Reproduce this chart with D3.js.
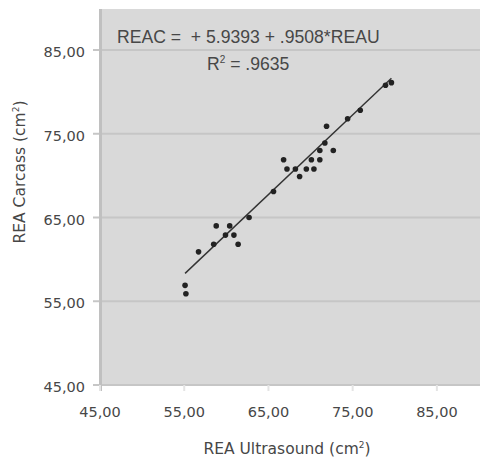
<!DOCTYPE html>
<html>
<head>
<meta charset="utf-8">
<script src="https://cdn.jsdelivr.net/npm/d3@7"></script>
<style>
  body { margin: 0; background: #fff; }
  svg text { fill: #474747; }
</style>
</head>
<body>
<div id="chart"></div>
<script>
// REA ultrasound vs carcass measurements (cm²)
const reau = [55.1, 55.2, 56.7, 58.5, 58.8, 59.9, 60.4, 60.9, 61.4, 62.7,
    65.6, 66.8, 67.2, 68.2, 68.7, 69.5, 70.1, 70.4, 71.1, 71.1,
    71.7, 71.9, 72.7, 74.4, 75.9, 78.9, 79.6];
const reac = [56.9, 55.9, 60.9, 61.8, 64.0, 62.9, 64.0, 62.9, 61.8, 65.0,
    68.1, 71.9, 70.8, 70.8, 69.9, 70.8, 71.9, 70.8, 71.9, 73.0,
    73.9, 75.9, 73.0, 76.8, 77.8, 80.8, 81.1];
const xTicks = [45, 55, 65, 75, 85];
const yTicks = [45, 55, 65, 75, 85];
const intercept = 5.9393;
const slope = 0.9508;
const eqText = "REAC =  + 5.9393 + .9508*REAU";
const r2Text = ".9635";

const width = 480, height = 459;
const margin = {top: 9, right: 0, bottom: 74, left: 100};

const svg = d3.select("#chart").append("svg")
    .attr("width", width)
    .attr("height", height);

const x = d3.scaleLinear().domain([45, 90]).range([margin.left, 479]);
const y = d3.scaleLinear().domain([45, 85]).range([385, 50]);

// plot background
svg.append("rect")
    .attr("x", margin.left)
    .attr("y", margin.top)
    .attr("width", width - margin.left - margin.right)
    .attr("height", y(45) - margin.top)
    .attr("fill", "#d9d9d9");

// horizontal gridlines
svg.selectAll(".grid")
    .data(yTicks)
    .enter()
    .append("line")
    .attr("class", "grid")
    .attr("x1", margin.left - 7)
    .attr("x2", width)
    .attr("y1", d => y(d))
    .attr("y2", d => y(d))
    .style("stroke", "#c6c6c6")
    .style("stroke-width", 2);

// left edge of plot
svg.append("line")
    .attr("x1", margin.left + 0.5)
    .attr("x2", margin.left + 0.5)
    .attr("y1", margin.top)
    .attr("y2", y(45) + 6)
    .style("stroke", "#c0c0c0")
    .style("stroke-width", 3);

// x tick marks
svg.selectAll(".xtick")
    .data(xTicks)
    .enter()
    .append("line")
    .attr("x1", d => x(d))
    .attr("x2", d => x(d))
    .attr("y1", y(45))
    .attr("y2", y(45) + 6)
    .style("stroke", "#e4e4e4")
    .style("stroke-width", 2);

const fmt = d => d3.format(".2f")(d).replace(".", ",");

// y tick labels
svg.selectAll(".ylabel")
    .data(yTicks)
    .enter()
    .append("text")
    .attr("x", 85)
    .attr("y", d => y(d) + 2)
    .attr("dy", "0.35em")
    .style("text-anchor", "end")
    .style("font-family", "DejaVu Sans")
    .style("font-size", "14.5px")
    .text(fmt);

// x tick labels
svg.selectAll(".xlabel")
    .data(xTicks)
    .enter()
    .append("text")
    .attr("x", d => x(d))
    .attr("y", 412)
    .attr("dy", "0.35em")
    .style("text-anchor", "middle")
    .style("font-family", "DejaVu Sans")
    .style("font-size", "14.5px")
    .text(fmt);

// axis titles
svg.append("text")
    .attr("x", 287)
    .attr("y", 449)
    .attr("dy", "0.35em")
    .style("text-anchor", "middle")
    .style("font-family", "DejaVu Sans")
    .style("font-size", "15.5px")
    .html("REA Ultrasound (cm<tspan dy='-6' font-size='9'>2</tspan><tspan dy='6'>)</tspan>");

svg.append("text")
    .attr("transform", "translate(20,172) rotate(-90)")
    .attr("dy", "0.35em")
    .style("text-anchor", "middle")
    .style("font-family", "DejaVu Sans")
    .style("font-size", "15.5px")
    .html("REA Carcass (cm<tspan dy='-6' font-size='9'>2</tspan><tspan dy='6'>)</tspan>");

// regression line
const xExt = d3.extent(reau);
svg.append("line")
    .attr("x1", x(xExt[0]))
    .attr("x2", x(xExt[1]))
    .attr("y1", y(intercept + slope * xExt[0]))
    .attr("y2", y(intercept + slope * xExt[1]))
    .style("stroke", "#333")
    .style("stroke-width", 1.4);

// points
svg.selectAll(".pt")
    .data(reau)
    .enter()
    .append("circle")
    .attr("class", "pt")
    .attr("cx", d => x(d))
    .attr("cy", (d, i) => y(reac[i]))
    .attr("r", 2.8)
    .attr("fill", "#222");

// equation
svg.append("text")
    .attr("x", 117)
    .attr("y", 43)
    .style("font-family", "Liberation Sans")
    .style("font-size", "17.6px")
    .style("white-space", "pre")
    .text(eqText);

svg.append("text")
    .attr("x", 207)
    .attr("y", 70)
    .style("font-family", "Liberation Sans")
    .style("font-size", "17.6px")
    .style("white-space", "pre")
    .html("R<tspan dy='-7' font-size='10'>2</tspan><tspan dy='7'> = " + r2Text + "</tspan>");
</script>
</body>
</html>
